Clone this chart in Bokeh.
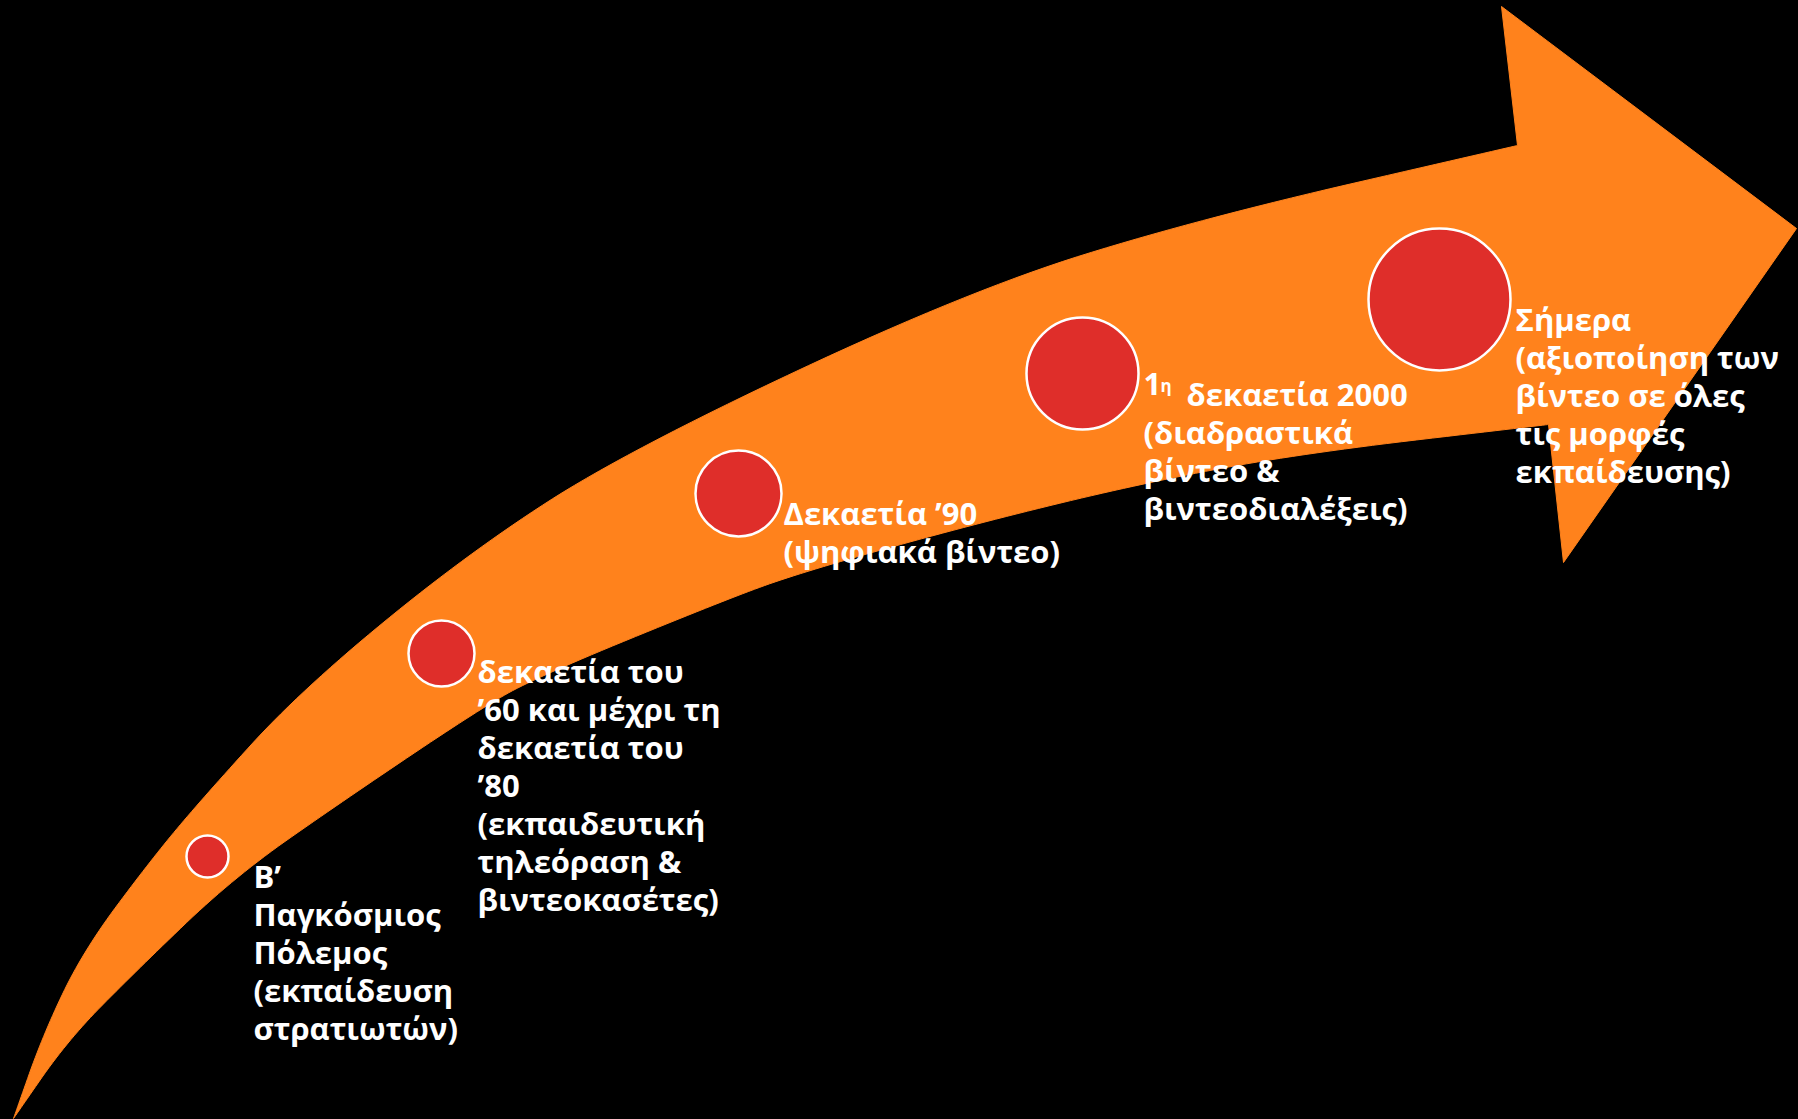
from bokeh.plotting import figure
from bokeh.models import Range1d, ColumnDataSource
from bokeh.core.properties import value
from bokeh.embed import file_html
from bokeh.resources import INLINE

# ---- timeline milestones (page pixel coordinates of the 1798x1119 slide) ----
milestone_x = [207, 441, 738, 1082, 1439]
milestone_y = [856, 653, 493, 373, 299]
milestone_r = [21, 33, 43, 56, 71]

label_lines = [
    "B\u2019\nΠαγκόσμιος\nΠόλεμος\n(εκπαίδευση\nστρατιωτών)",
    "δεκαετία του\n\u201960 και μέχρι τη\nδεκαετία του\n\u201980\n(εκπαιδευτική\nτηλεόραση &\nβιντεοκασέτες)",
    "Δεκαετία \u201990\n(ψηφιακά βίντεο)",
    "(διαδραστικά\nβίντεο &\nβιντεοδιαλέξεις)",
    "Σήμερα\n(αξιοποίηση των\nβίντεο σε όλες\nτις μορφές\nεκπαίδευσης)",
]
label_x = [253, 477, 783, 1143, 1515]
label_y = [854, 649, 491, 410, 297]

# ---- curved arrow outline ----
upper_x = [13, 43, 83, 150, 200, 300, 467, 627, 968, 1200, 1517]
upper_y = [1118, 1033, 950, 860, 800, 690, 553, 450, 290, 218, 145]
head_x = [1501, 1796, 1563, 1548]
head_y = [6, 228, 562, 424]
lower_x = [1548, 1300, 1140, 968, 800, 723, 535, 477, 343, 233, 133, 67, 13]
lower_y = [424, 453, 483, 525, 572, 600, 677, 710, 800, 877, 973, 1040, 1118]

ORANGE = "#FF821C"
RED = "#DF2E2A"
FONT = value("Open Sans")
FS = "31px"
LH = 0.905


def chaikin(xs, ys, iterations=4):
    """Corner-cutting smoothing of an outline edge (shape geometry only)."""
    pts = list(zip(xs, ys))
    for _ in range(iterations):
        new = [pts[0]]
        for (x0, y0), (x1, y1) in zip(pts[:-1], pts[1:]):
            new.append((0.75 * x0 + 0.25 * x1, 0.75 * y0 + 0.25 * y1))
            new.append((0.25 * x0 + 0.75 * x1, 0.25 * y0 + 0.75 * y1))
        new.append(pts[-1])
        pts = new
    return [q[0] for q in pts], [q[1] for q in pts]


ux, uy = chaikin(upper_x, upper_y)
lx, ly = chaikin(lower_x, lower_y)

p = figure(width=1798, height=1119,
           x_range=Range1d(0, 1798), y_range=Range1d(1119, 0),
           x_axis_type=None, y_axis_type=None,
           output_backend="svg", toolbar_location=None,
           min_border=0, background_fill_color="black",
           border_fill_color="black", outline_line_color=None)
p.grid.visible = False

p.patch(ux + head_x + lx, uy + head_y + ly,
        fill_color=ORANGE, line_color=ORANGE, line_width=1)

p.circle(x=milestone_x, y=milestone_y, radius=milestone_r,
         fill_color=RED, line_color="white", line_width=2.5)

src = ColumnDataSource(dict(x=label_x, y=label_y, t=label_lines))
p.text(x="x", y="y", text="t", source=src, text_color="white",
       text_font=FONT, text_font_style="bold", text_font_size=FS,
       text_baseline="top", text_align="left", text_line_height=LH)

# first line of the 2000s label with superscript
p.text(x=[1143], y=[372], text=["1"], text_color="white", text_font=FONT,
       text_font_style="bold", text_font_size=FS, text_baseline="top",
       text_line_height=LH)
p.text(x=[1160], y=[385], text=["η"], text_color="white", text_font=FONT,
       text_font_style="bold", text_font_size="17px",
       text_baseline="alphabetic")
p.text(x=[1186], y=[372], text=["δεκαετία 2000"], text_color="white",
       text_font=FONT, text_font_style="bold", text_font_size=FS,
       text_baseline="top", text_line_height=LH)

html = file_html(p, INLINE, title="timeline")
html = html.replace("</head>", "<style>html,body{background:#000;}</style></head>", 1)
open("out.html", "w").write(html)
